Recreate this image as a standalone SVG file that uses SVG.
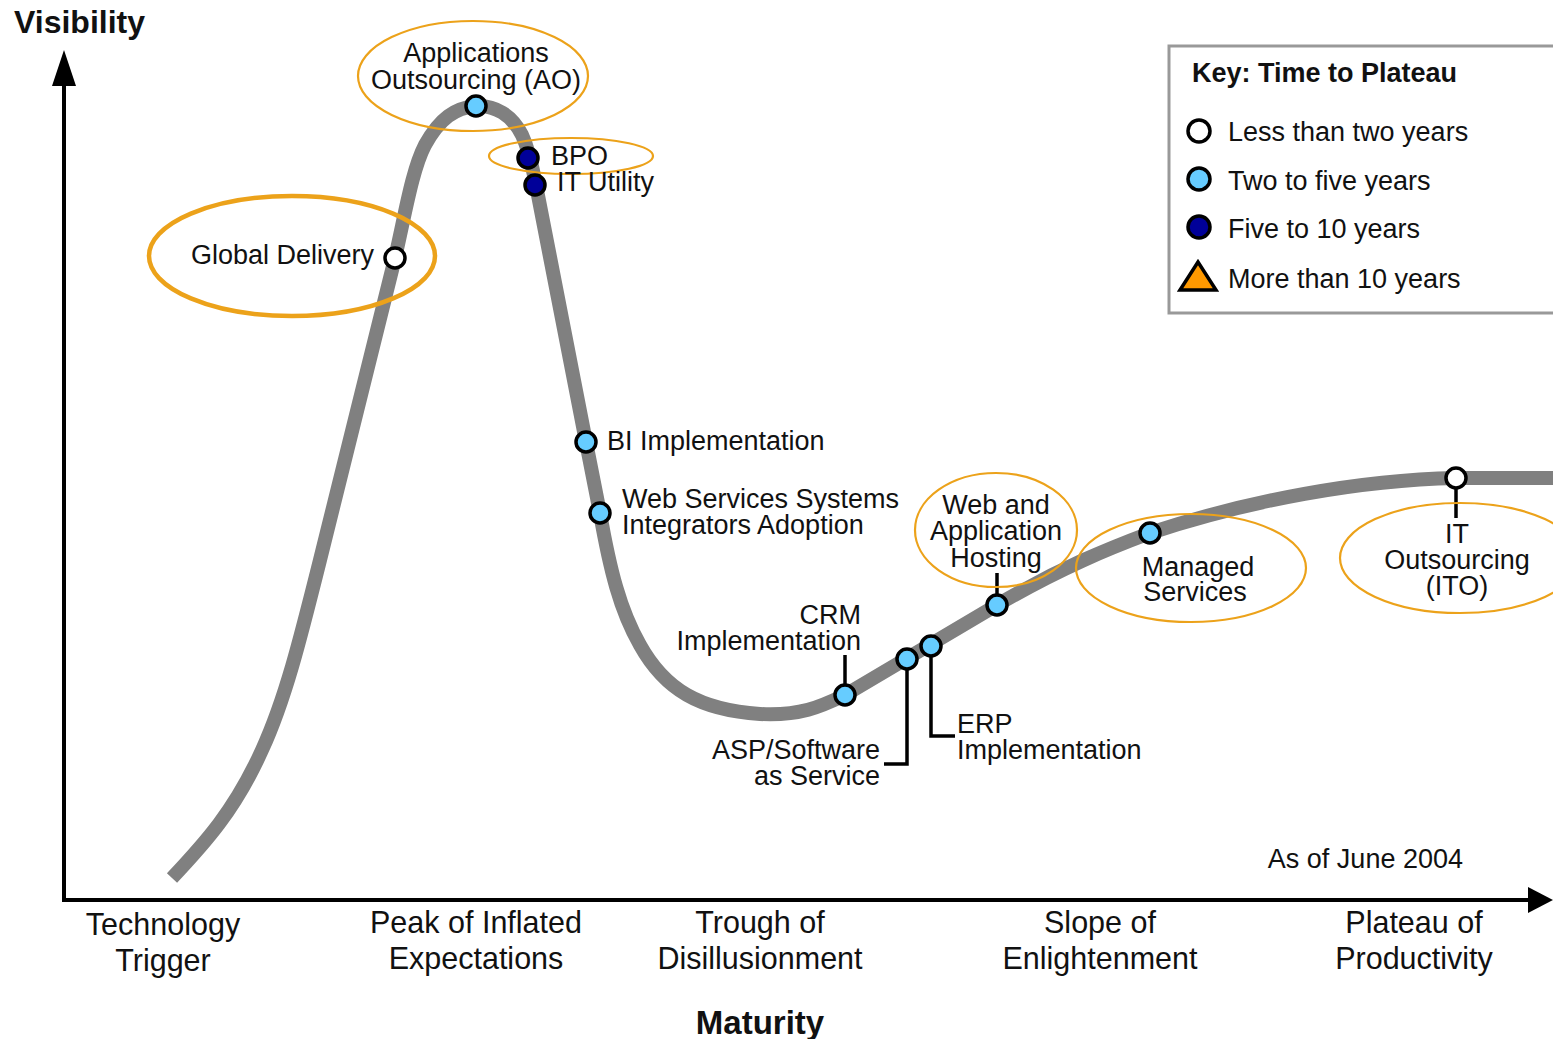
<svg xmlns="http://www.w3.org/2000/svg" width="1553" height="1039" viewBox="0 0 1553 1039">
<style>
text{font-family:"Liberation Sans",Arial,sans-serif;fill:#111}
.t{font-size:27px}
.ax{font-size:30.5px;text-anchor:middle}
.b{font-weight:bold}
.c{text-anchor:middle}
.r{text-anchor:end}
.ring{fill:none;stroke:#eca21a;stroke-width:2.2}
.p{stroke:#000;stroke-width:3.5}
.lb{fill:#66ccff}
.dk{fill:#000099}
.wh{fill:#fff}
.lead{fill:none;stroke:#000;stroke-width:3.5}
</style>
<rect width="1553" height="1039" fill="#fff"/>
<g id="axes">
<line x1="64" y1="902" x2="64" y2="85" stroke="#000" stroke-width="4"/>
<polygon points="64,50 52,86 76,86" fill="#000"/>
<line x1="62" y1="900" x2="1530" y2="900" stroke="#000" stroke-width="4"/>
<polygon points="1553,900 1528,887 1528,913" fill="#000"/>
<text x="14" y="33" class="b" font-size="32">Visibility</text>
<text x="760" y="1034" class="b c" font-size="33">Maturity</text>
<text x="163" y="935" class="ax">Technology</text>
<text x="163" y="971" class="ax">Trigger</text>
<text x="476" y="933" class="ax">Peak of Inflated</text>
<text x="476" y="969" class="ax">Expectations</text>
<text x="760" y="933" class="ax">Trough of</text>
<text x="760" y="969" class="ax">Disillusionment</text>
<text x="1100" y="933" class="ax">Slope of</text>
<text x="1100" y="969" class="ax">Enlightenment</text>
<text x="1414" y="933" class="ax">Plateau of</text>
<text x="1414" y="969" class="ax">Productivity</text>
<text x="1463" y="868" class="t r">As of June 2004</text>
</g>
<g id="curve">
<path d="M172,878 C205,843 235,810 262,750 C285,700 300,640 320,560 L395,258 C405,215 412,170 425,145 C440,118 455,108 476,106 C495,105 512,115 522,135 C530,152 533,170 536,185 L586,442 L600,513 C610,570 620,610 640,645 C665,690 700,710 760,714 C800,716 820,707 845,695 L997,605 C1060,568 1110,548 1150,533 C1250,500 1360,480 1456,478 L1553,478" fill="none" stroke="#808080" stroke-width="14" stroke-linejoin="round"/>
</g>
<g id="connectors">
<polyline class="lead" points="845,695 845,655"/>
<polyline class="lead" points="907,659 907,764 884,764"/>
<polyline class="lead" points="931,646 931,736 955,736"/>
<polyline class="lead" points="997,605 997,573"/>
<polyline class="lead" points="1456,478 1456,518"/>
</g>
<g id="n-ao">
<ellipse class="ring" cx="473" cy="76" rx="115" ry="55"/>
<text x="476" y="62" class="t c">Applications</text>
<text x="476" y="89" class="t c">Outsourcing (AO)</text>
<circle class="p lb" cx="476" cy="106" r="10"/>
</g>
<g id="n-bpo">
<circle class="p dk" cx="528" cy="158" r="10"/>
<ellipse class="ring" cx="571" cy="156" rx="82" ry="18"/>
<text x="551" y="165" class="t">BPO</text>
</g>
<g id="n-itu">
<circle class="p dk" cx="535" cy="185" r="10"/>
<text x="557" y="191" class="t">IT Utility</text>
</g>
<g id="n-gd">
<ellipse cx="292" cy="256" rx="143" ry="60" fill="none" stroke="#eca21a" stroke-width="4.5"/>
<text x="374" y="264" class="t r">Global Delivery</text>
<circle class="p wh" cx="395" cy="258" r="10"/>
</g>
<g id="n-bi">
<circle class="p lb" cx="586" cy="442" r="10"/>
<text x="607" y="450" class="t">BI Implementation</text>
</g>
<g id="n-ws">
<circle class="p lb" cx="600" cy="513" r="10"/>
<text x="622" y="508" class="t">Web Services Systems</text>
<text x="622" y="534" class="t">Integrators Adoption</text>
</g>
<g id="n-crm">
<circle class="p lb" cx="845" cy="695" r="10"/>
<text x="861" y="624" class="t r">CRM</text>
<text x="861" y="650" class="t r">Implementation</text>
</g>
<g id="n-asp">
<circle class="p lb" cx="907" cy="659" r="10"/>
<text x="880" y="759" class="t r">ASP/Software</text>
<text x="880" y="785" class="t r">as Service</text>
</g>
<g id="n-erp">
<circle class="p lb" cx="931" cy="646" r="10"/>
<text x="957" y="733" class="t">ERP</text>
<text x="957" y="759" class="t">Implementation</text>
</g>
<g id="n-wah">
<ellipse class="ring" cx="996" cy="530" rx="81" ry="57"/>
<text x="996" y="514" class="t c">Web and</text>
<text x="996" y="540" class="t c">Application</text>
<text x="996" y="567" class="t c">Hosting</text>
<circle class="p lb" cx="997" cy="605" r="10"/>
</g>
<g id="n-ms">
<ellipse class="ring" cx="1191" cy="568" rx="115" ry="54"/>
<circle class="p lb" cx="1150" cy="533" r="10"/>
<text x="1198" y="576" class="t c">Managed</text>
<text x="1195" y="601" class="t c">Services</text>
</g>
<g id="n-ito">
<ellipse class="ring" cx="1460" cy="558" rx="120" ry="55"/>
<circle class="p wh" cx="1456" cy="478" r="10"/>
<text x="1457" y="543" class="t c">IT</text>
<text x="1457" y="569" class="t c">Outsourcing</text>
<text x="1457" y="595" class="t c">(ITO)</text>
</g>
<g id="legend">
<rect x="1169" y="46" width="400" height="267" fill="#fff" stroke="#999" stroke-width="3"/>
<text x="1192" y="82" class="b" font-size="27">Key: Time to Plateau</text>
<circle class="p wh" cx="1199" cy="131" r="11"/>
<text x="1228" y="141" class="t">Less than two years</text>
<circle class="p lb" cx="1199" cy="179" r="11"/>
<text x="1228" y="190" class="t">Two to five years</text>
<circle class="p dk" cx="1199" cy="227" r="11"/>
<text x="1228" y="238" class="t">Five to 10 years</text>
<polygon points="1198,262 1180,290 1216,290" fill="#ff9900" stroke="#000" stroke-width="3.5"/>
<text x="1228" y="288" class="t">More than 10 years</text>
</g>
</svg>
